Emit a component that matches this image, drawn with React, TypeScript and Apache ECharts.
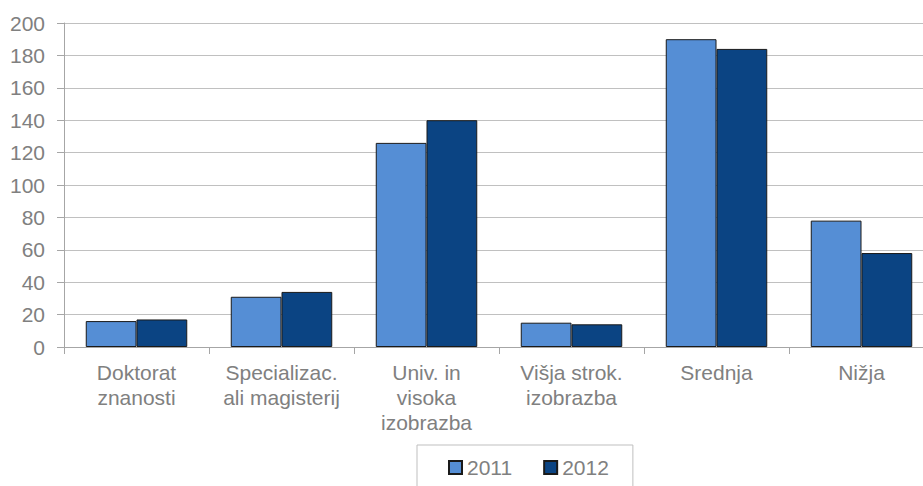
import React, { useEffect, useRef } from "react";
import * as echarts from "echarts";

const categories = [
  "Doktorat\nznanosti",
  "Specializac.\nali magisterij",
  "Univ. in\nvisoka\nizobrazba",
  "Višja strok.\nizobrazba",
  "Srednja",
  "Nižja",
];
const seriesNames = ["2011", "2012"];
const values2011 = [16, 31, 126, 15, 190, 78];
const values2012 = [17, 34, 140, 14, 184, 58];
const yTicks = { min: 0, max: 200, interval: 20 };

const FONT = "'Liberation Sans', Arial, sans-serif";
const TEXT = "#808080";

export default function App() {
  const ref = useRef<HTMLDivElement>(null);
  useEffect(() => {
    if (!ref.current) return;
    const chart = echarts.init(ref.current, null, { renderer: "svg" });
    chart.setOption({
      animation: false,
      backgroundColor: "#ffffff",
      textStyle: { fontFamily: FONT },
      grid: { left: 64, top: 23, bottom: 139, right: 0 },
      legend: {
        data: seriesNames,
        left: 417,
        top: 445,
        orient: "horizontal",
        padding: [12, 24, 40, 31],
        borderColor: "#bfbfbf",
        borderWidth: 1,
        itemWidth: 13,
        itemHeight: 13,
        itemGap: 31,
        icon: "rect",
        textStyle: { fontSize: 21, color: TEXT, fontFamily: FONT, padding: [0, 0, 0, 0] },
      },
      xAxis: {
        type: "category",
        data: categories,
        axisLine: { show: true, lineStyle: { color: "#a6a6a6", width: 1 } },
        axisTick: { show: true, length: 7, lineStyle: { color: "#a6a6a6" } },
        axisLabel: {
          interval: 0,
          fontSize: 21,
          lineHeight: 25,
          color: TEXT,
          fontFamily: FONT,
          margin: 13,
        },
      },
      yAxis: {
        type: "value",
        min: yTicks.min,
        max: yTicks.max,
        interval: yTicks.interval,
        axisLine: { show: true, lineStyle: { color: "#a6a6a6", width: 1 } },
        axisTick: { show: true, length: 7, lineStyle: { color: "#a6a6a6" } },
        splitLine: { show: true, lineStyle: { color: "#c0c0c0", width: 1.2 } },
        axisLabel: { fontSize: 21, color: TEXT, fontFamily: FONT, margin: 19 },
      },
      series: [
        {
          name: seriesNames[0],
          type: "bar",
          data: values2011,
          barGap: "0%",
          barCategoryGap: "30%",
          itemStyle: { color: "#558ed5", borderColor: "#1a1a1a", borderWidth: 1 },
        },
        {
          name: seriesNames[1],
          type: "bar",
          data: values2012,
          barGap: "0%",
          barCategoryGap: "30%",
          itemStyle: { color: "#0b4483", borderColor: "#1a1a1a", borderWidth: 1 },
        },
      ],
    });
    return () => chart.dispose();
  }, []);
  return (
    <div
      style={{
        position: "fixed",
        left: 0,
        top: 0,
        width: 923,
        height: 486,
        overflow: "hidden",
        background: "#ffffff",
      }}
    >
      <div ref={ref} style={{ width: 934, height: 486 }} />
    </div>
  );
}
